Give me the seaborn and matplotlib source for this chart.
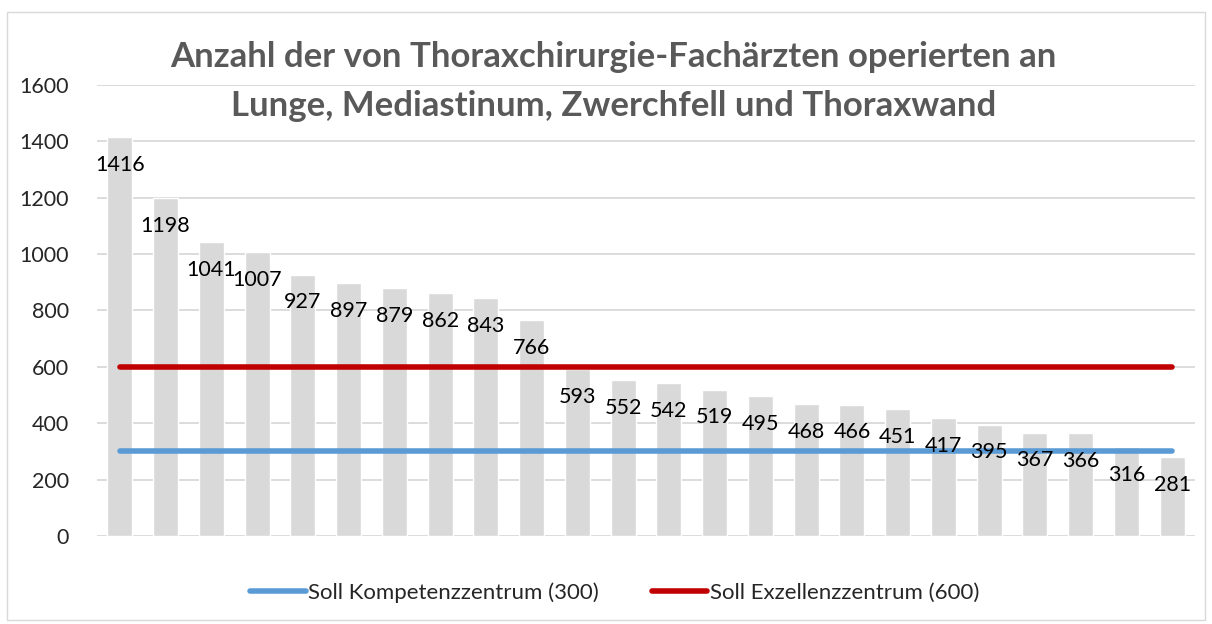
import seaborn as sns
import pandas as pd
import matplotlib.pyplot as plt
from matplotlib.patches import Rectangle

values = [1416, 1198, 1041, 1007, 927, 897, 879, 862, 843, 766, 593, 552,
          542, 519, 495, 468, 466, 451, 417, 395, 367, 366, 316, 281]
categories = [str(i + 1) for i in range(len(values))]
kompetenz_label = "Soll Kompetenzzentrum (300)"
exzellenz_label = "Soll Exzellenzzentrum (600)"
kompetenz_value = 300
exzellenz_value = 600
title = "Anzahl der von Thoraxchirurgie-Fachärzten operierten an\nLunge, Mediastinum, Zwerchfell und Thoraxwand"

sns.set_style("white")
plt.rcParams["font.family"] = ["Lato", "DejaVu Sans"]

df = pd.DataFrame({"cat": categories, "value": values})
lines_df = pd.DataFrame({
    "cat": list(range(len(values))) * 2,
    "value": [kompetenz_value] * len(values) + [exzellenz_value] * len(values),
    "serie": [kompetenz_label] * len(values) + [exzellenz_label] * len(values),
})

fig = plt.figure(figsize=(12.12, 6.24), dpi=100)
ax = fig.add_axes([0.080, 0.141, 0.906, 0.723])

sns.barplot(data=df, x="cat", y="value", color="#D9D9D9", width=0.55,
            saturation=1, ax=ax, zorder=2)
sns.lineplot(data=lines_df, x="cat", y="value", hue="serie",
             palette=["#5B9BD5", "#C00000"], linewidth=4,
             solid_capstyle="round", ax=ax, zorder=3)

for i, v in enumerate(values):
    ax.annotate(str(v), (i, v), xytext=(0, -20), textcoords="offset points",
                ha="center", va="center", fontsize=15.5, color="black", zorder=4)

ax.set_xlim(-0.5, len(values) - 0.5)
ax.set_ylim(0, 1600)
ax.set_yticks(range(0, 1601, 200))
ax.set_xticks([])
ax.set_xlabel("")
ax.set_ylabel("")
ax.tick_params(axis="y", labelsize=15.5, length=0, pad=20)
ax.yaxis.grid(True, color="#D9D9D9", linewidth=1.3, zorder=0)
ax.set_axisbelow(True)
for s in ax.spines.values():
    s.set_visible(False)

fig.text(0.506, 0.869, title, ha="center", va="center", fontsize=25,
         fontweight="bold", color="#595959", linespacing=1.65)

handles, labels = ax.get_legend_handles_labels()
for h in handles:
    h.set_solid_capstyle("round")
ax.legend(handles, labels, loc="center", bbox_to_anchor=(0.507, 0.05),
          bbox_transform=fig.transFigure, ncol=2, frameon=False, fontsize=16,
          handlelength=2.5, handletextpad=0.1, columnspacing=2.4)

fig.patches.append(Rectangle((0.006, 0.006), 0.988, 0.975, transform=fig.transFigure,
                             fill=False, edgecolor="#D9D9D9", linewidth=1))

plt.savefig("out.png", dpi=100)
